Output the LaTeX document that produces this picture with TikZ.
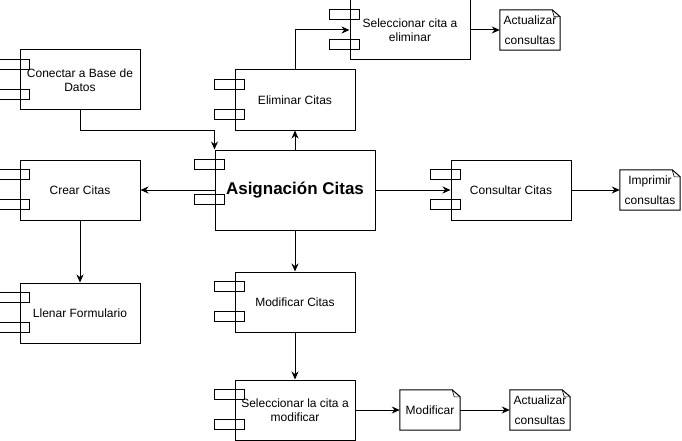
\documentclass[tikz,border=0pt]{standalone}
\usepackage{fontspec}
\setmainfont{Liberation Sans}
\usetikzlibrary{calc,arrows.meta}
\tikzset{
  x=1pt,y=-1pt,
  comp/.style={draw,line width=1pt,minimum width=120pt,minimum height=60pt,inner sep=0pt,align=center,font=\fontsize{12}{14}\selectfont},
  notebox/.style={minimum width=60pt,minimum height=40pt,inner sep=0pt,align=center,font=\fontsize{12}{20}\selectfont},
  port/.style={draw,line width=1pt},
  arr/.style={line width=1pt,-{Stealth[length=8pt,width=7pt]}}
}
\newcommand{\cports}[3]{%
  \draw[port] ($(#1.north west)+(-20,#2)$) rectangle ++(30,10);
  \draw[port] ($(#1.north west)+(-20,#3)$) rectangle ++(30,10);}
\newcommand{\noteout}[1]{%
  \draw[line width=1pt,line join=miter] (#1.north west) -- ($(#1.north east)+(-8,0)$) -- ($(#1.north east)+(0,7)$) -- (#1.south east) -- (#1.south west) -- cycle;
  \draw[line width=0.6pt] ($(#1.north east)+(-8,0)$) -- ($(#1.north east)+(-6,7)$) -- ($(#1.north east)+(0,7)$);}
\begin{document}
\begin{tikzpicture}
\useasboundingbox (0,0) rectangle (682,441);
\node[comp] (con) at (80,80) {Conectar a Base de\\Datos};
\node[comp] (eli) at (295,100) {Eliminar Citas};
\node[comp] (sel1) at (410,30) {Seleccionar cita a\\eliminar};
\node[notebox] (act1) at (530,30) {Actualizar\\consultas};
\node[comp,minimum width=160pt,minimum height=80pt,font=\fontsize{17}{20}\selectfont\bfseries] (asg) at (295,190) {Asignación Citas};
\node[comp] (cre) at (80,190) {Crear Citas};
\node[comp] (lle) at (80,313) {Llenar Formulario};
\node[comp] (cons) at (511,190) {Consultar Citas};
\node[notebox] (imp) at (650,190) {Imprimir\\consultas};
\node[comp] (mod) at (295,302) {Modificar Citas};
\node[comp] (sel2) at (295,410) {Seleccionar la cita a\\modificar};
\node[notebox] (modn) at (430,410) {Modificar};
\node[notebox] (act2) at (540,410) {Actualizar\\consultas};
\cports{con}{10}{40}
\cports{eli}{10}{40}
\cports{sel1}{10}{40}
\cports{asg}{10}{45}
\cports{cre}{10}{40}
\cports{lle}{10}{40}
\cports{cons}{10}{40}
\cports{mod}{10}{40}
\cports{sel2}{10}{40}
\noteout{act1}
\noteout{imp}
\noteout{modn}
\noteout{act2}
\draw[arr] (con.south) -- ++(0,20) -| (asg.north west);
\draw[arr] (asg.north) -- (eli.south);
\draw[arr] (eli.north) |- (sel1.west);
\draw[arr] (sel1.east) -- (act1.west);
\draw[arr] (asg.west) -- (cre.east);
\draw[arr] (cre.south) -- (lle.north);
\draw[arr] (asg.east) -- (cons.west);
\draw[arr] (cons.east) -- (imp.west);
\draw[arr] (asg.south) -- (mod.north);
\draw[arr] (mod.south) -- (sel2.north);
\draw[arr] (sel2.east) -- (modn.west);
\draw[arr] (modn.east) -- (act2.west);
\end{tikzpicture}
\end{document}
